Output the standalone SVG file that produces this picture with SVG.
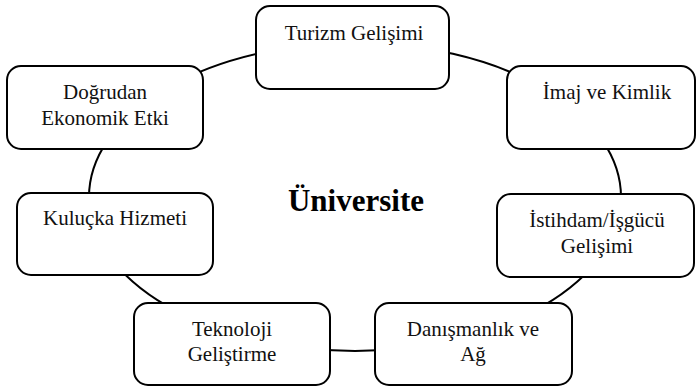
<svg xmlns="http://www.w3.org/2000/svg" width="697" height="387" viewBox="0 0 697 387">
<style>
.box{fill:#fff;stroke:#000;stroke-width:2}
.t{font-family:"Liberation Serif","Times New Roman",serif;font-size:21px;fill:#111;text-anchor:middle}
.c{fill:none;stroke:#000;stroke-width:2}
.title{font-family:"Liberation Serif","Times New Roman",serif;font-size:31px;font-weight:bold;fill:#000;text-anchor:middle}
</style>
<rect width="697" height="387" fill="#fff"/>
<g id="connectors">
<ellipse class="c" cx="355" cy="197" rx="266" ry="154"/>
</g>
<g id="center"><text class="title" x="356" y="211">Üniversite</text></g>
<g id="n1"><rect class="box" x="256" y="6" width="193" height="83" rx="14"/><text class="t" x="354" y="40">Turizm Gelişimi</text></g>
<g id="n2"><rect class="box" x="7" y="66" width="196" height="83" rx="14"/><text class="t" x="105" y="99">Doğrudan</text><text class="t" x="105" y="125">Ekonomik Etki</text></g>
<g id="n3"><rect class="box" x="507" y="66" width="188" height="83" rx="14"/><text class="t" x="607" y="99">İmaj ve Kimlik</text></g>
<g id="n4"><rect class="box" x="17" y="193" width="196" height="82" rx="14"/><text class="t" x="115" y="225">Kuluçka Hizmeti</text></g>
<g id="n5"><rect class="box" x="497" y="194" width="197" height="83" rx="14"/><text class="t" x="597" y="227">İstihdam/İşgücü</text><text class="t" x="597" y="253">Gelişimi</text></g>
<g id="n6"><rect class="box" x="134" y="303" width="196" height="82" rx="14"/><text class="t" x="232" y="336">Teknoloji</text><text class="t" x="232" y="361">Geliştirme</text></g>
<g id="n7"><rect class="box" x="375" y="303" width="197" height="82" rx="14"/><text class="t" x="473" y="336">Danışmanlık ve</text><text class="t" x="473" y="361">Ağ</text></g>
</svg>
